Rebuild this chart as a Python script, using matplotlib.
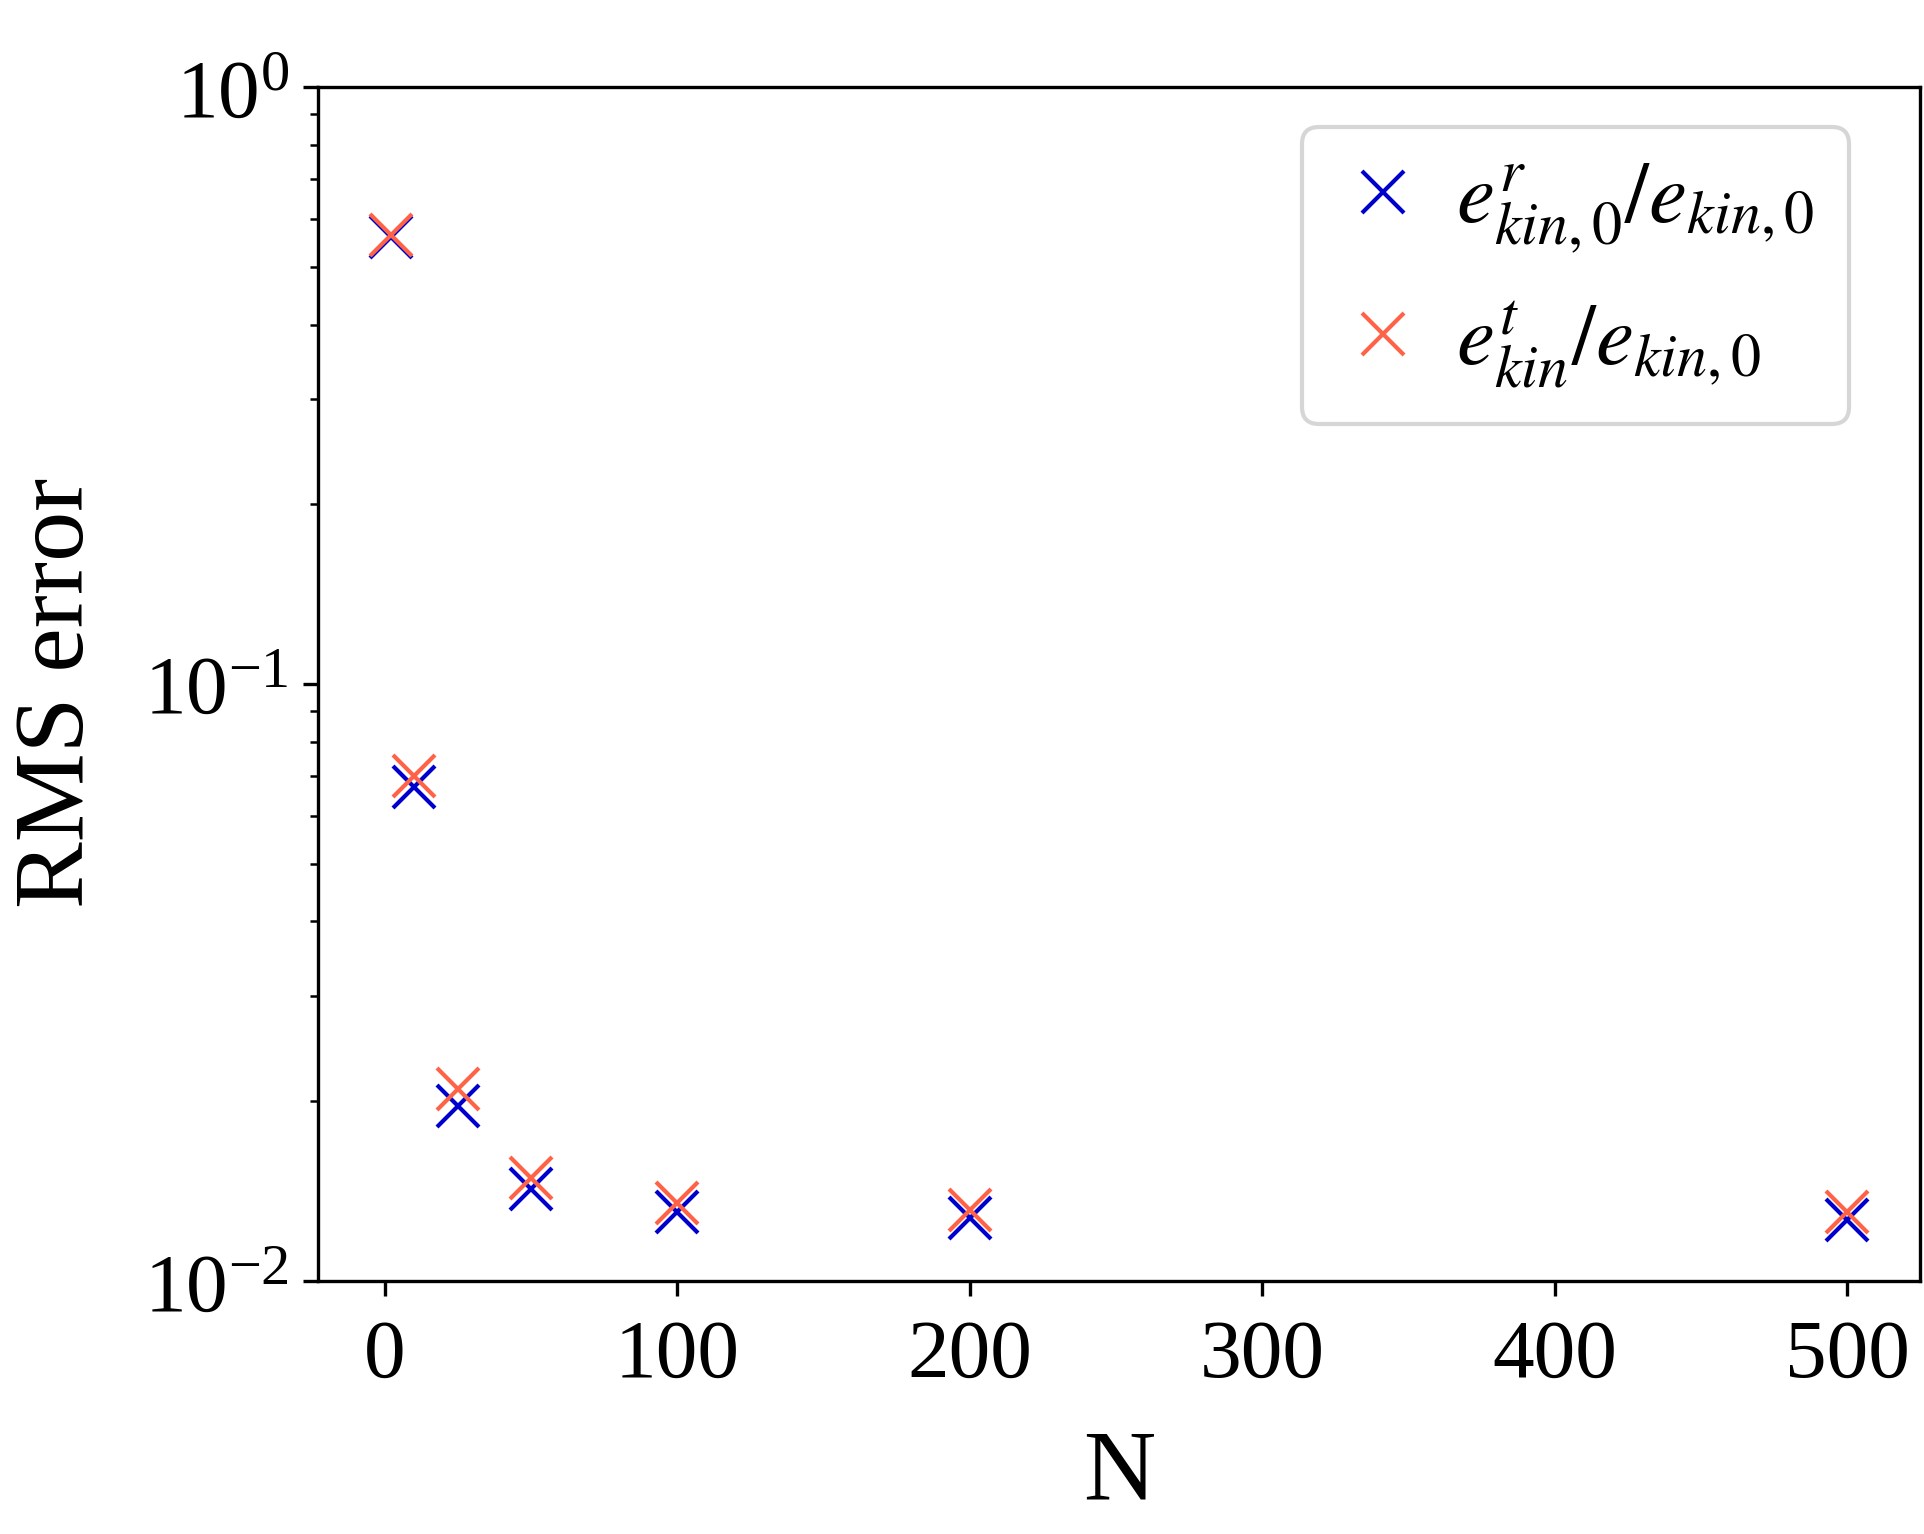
import matplotlib
matplotlib.use("Agg")
import matplotlib.pyplot as plt

plt.rcParams['font.family'] = ['Liberation Serif', 'STIXGeneral', 'DejaVu Serif']
plt.rcParams['mathtext.fontset'] = 'stix'

N = [2, 10, 25, 50, 100, 200, 500]
err_r = [0.560, 0.0672, 0.01963, 0.01423, 0.01305, 0.01274, 0.01264]
err_t = [0.565, 0.0700, 0.02099, 0.01489, 0.01347, 0.01312, 0.01304]
labels = [r'$e^r_{kin,0}/e_{kin,0}$', r'$e^t_{kin}/e_{kin,0}$']

W, H, DPI = 1924, 1535, 300
fig = plt.figure(figsize=(W / DPI, H / DPI), dpi=DPI)
ax = fig.add_axes([318 / W, (H - 1281.7) / H, 1602 / W, (1281.7 - 88) / H])

ax.plot(N, err_r, linestyle='none', marker='x', ms=10, mew=1.0,
        color='#0000CD', label=labels[0])
ax.plot(N, err_t, linestyle='none', marker='x', ms=10, mew=1.0,
        color='#FF6347', label=labels[1])

ax.set_yscale('log')
ax.set_ylim(1e-2, 1e0)
ax.set_xticks([0, 100, 200, 300, 400, 500])
ax.tick_params(axis='both', which='major', labelsize=20)
ax.tick_params(axis='x', which='major', pad=5.6)
ax.set_xlabel('N', fontsize=24, labelpad=8.3)
ax.set_ylabel('RMS error', fontsize=24)
ax.yaxis.set_label_coords((104 - 318) / 1602, 0.493)

ax.legend(loc='upper right', bbox_to_anchor=(0.9557, 0.9665),
          borderaxespad=0, fontsize=20.6, numpoints=1,
          handlelength=1.1, handletextpad=0.3)

fig.savefig('out.png', dpi=DPI)
